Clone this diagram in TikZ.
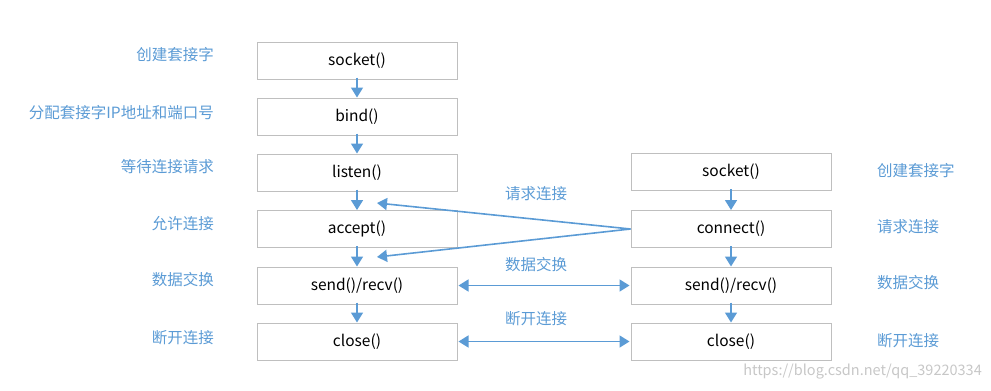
\documentclass[tikz,border=0pt]{standalone}
\usepackage{fontspec}
\setmainfont{Noto Sans CJK SC}
\usetikzlibrary{arrows.meta}
\definecolor{arrowblue}{HTML}{5B9BD5}
\definecolor{boxgray}{HTML}{BFBFBF}
\tikzset{
  fnbox/.style={draw=boxgray, line width=1pt, fill=white, minimum width=200pt, minimum height=37pt, inner sep=0pt, font=\fontsize{15.5}{17}\selectfont},
  sidelabel/.style={text=arrowblue, inner sep=0pt, font=\fontsize{15.5}{17}\selectfont},
  flow/.style={draw=arrowblue, line width=1.6pt, -{Triangle[width=12pt,length=10pt]}},
  biflow/.style={draw=arrowblue, line width=1.6pt, {Triangle[width=12pt,length=10pt]}-{Triangle[width=12pt,length=10pt]}},
}
\begin{document}
\begin{tikzpicture}[x=1pt,y=-1pt]
\useasboundingbox (0,0) rectangle (991,391);
% left column
\node[fnbox] (ls) at (357,60.5) {socket()};
\node[fnbox] (lb) at (357,116.5) {bind()};
\node[fnbox] (ll) at (357,172.5) {listen()};
\node[fnbox] (la) at (357,229) {accept()};
\node[fnbox] (lr) at (357,285.5) {send()/recv()};
\node[fnbox] (lc) at (357,341.5) {close()};
% right column
\node[fnbox] (rs) at (731,172) {socket()};
\node[fnbox] (rn) at (731,229) {connect()};
\node[fnbox] (rr) at (731,285.5) {send()/recv()};
\node[fnbox] (rc) at (731,341.5) {close()};
% left labels
\node[sidelabel, anchor=east] (t1) at (214,55) {创建套接字};
\node[sidelabel, anchor=east] (t2) at (214,113) {分配套接字IP地址和端口号};
\node[sidelabel, anchor=east] (t3) at (214,167) {等待连接请求};
\node[sidelabel, anchor=east] (t4) at (214,224) {允许连接};
\node[sidelabel, anchor=east] (t5) at (214,280) {数据交换};
\node[sidelabel, anchor=east] (t6) at (214,338) {断开连接};
% right labels
\node[sidelabel, anchor=west] (u1) at (877,171) {创建套接字};
\node[sidelabel, anchor=west] (u2) at (877,227) {请求连接};
\node[sidelabel, anchor=west] (u3) at (877,283) {数据交换};
\node[sidelabel, anchor=west] (u4) at (877,341) {断开连接};
% middle labels
\node[sidelabel] (m1) at (536,194) {请求连接};
\node[sidelabel] (m2) at (536,265) {数据交换};
\node[sidelabel] (m3) at (536,319) {断开连接};
% vertical arrows
\draw[flow] ([yshift=2pt]ls.south) -- (lb.north);
\draw[flow] ([yshift=2pt]lb.south) -- (ll.north);
\draw[flow] ([yshift=2pt]ll.south) -- (la.north);
\draw[flow] ([yshift=2pt]la.south) -- (lr.north);
\draw[flow] ([yshift=2pt]lr.south) -- (lc.north);
\draw[flow] ([yshift=2pt]rs.south) -- (rn.north);
\draw[flow] ([yshift=2pt]rn.south) -- (rr.north);
\draw[flow] ([yshift=2pt]rr.south) -- (rc.north);
% connection request lines
\coordinate (p1) at (377,203);
\coordinate (p2) at (377,257);
\draw[flow] (rn.west) -- (p1);
\draw[flow] (rn.west) -- (p2);
% bidirectional
\draw[biflow] ([xshift=1pt]lr.east) -- ([xshift=-1pt]rr.west);
\draw[biflow] ([xshift=1pt]lc.east) -- ([xshift=-1pt]rc.west);
% watermark
\node[text=black!22, inner sep=0pt, anchor=east, font=\fontsize{14.5}{16}\selectfont] (wm) at (982,372) {https://blog.csdn.net/qq\_39220334};
\end{tikzpicture}
\end{document}
